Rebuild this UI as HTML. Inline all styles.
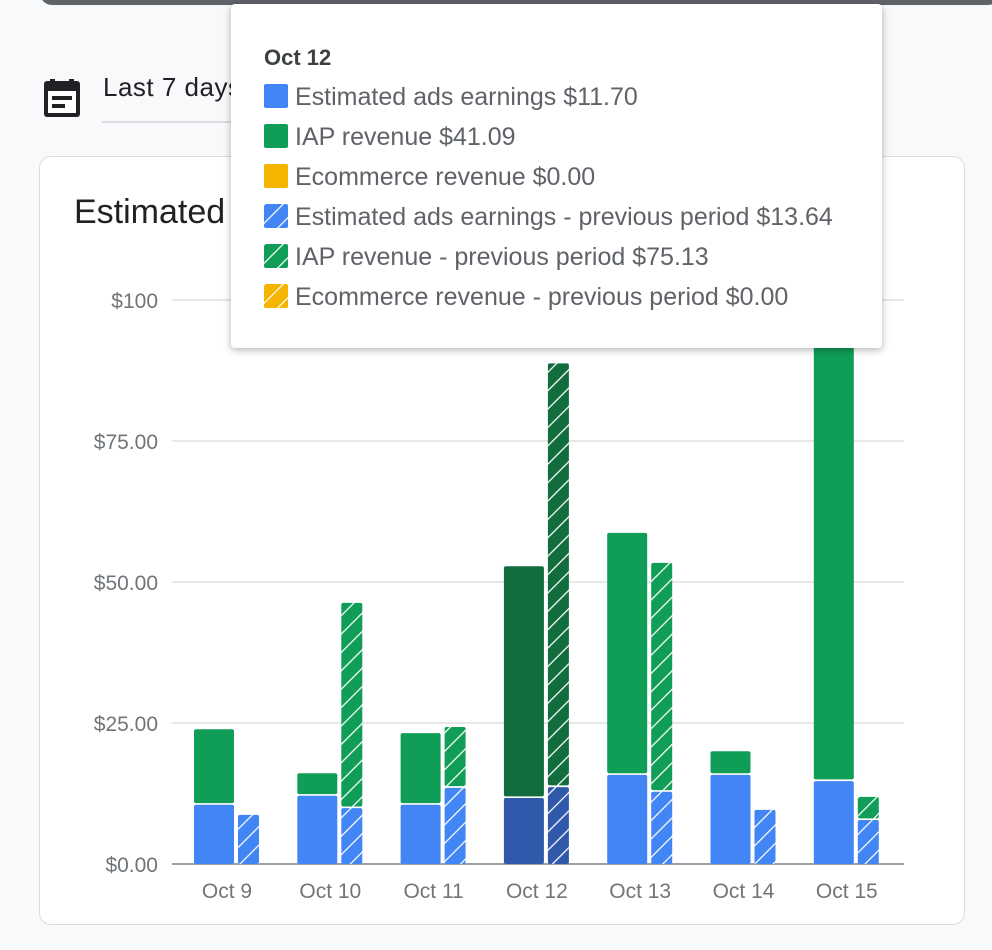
<!DOCTYPE html>
<html><head><meta charset="utf-8"><style>
body{margin:0;width:992px;height:950px;background:#f8f9fa;font-family:"Liberation Sans",Roboto,sans-serif;position:relative;overflow:hidden}
#topbar{position:absolute;left:40px;top:-20px;width:960px;height:25px;background:#5f6368;border-radius:12px}
#cal{position:absolute;left:44px;top:75px}
#range{position:absolute;left:103px;top:72px;font-size:26px;color:#202124;letter-spacing:0.5px}
#uline{position:absolute;left:102px;top:121px;width:140px;height:2px;background:#dadce0}
#card{position:absolute;left:39px;top:156px;width:924px;height:767px;background:#fff;border:1.5px solid #dadce0;border-radius:12px}
#title{position:absolute;left:74px;top:193px;font-size:34px;color:#202124}
#chart{position:absolute;left:0;top:0}
#tip{position:absolute;left:231px;top:4px;width:651px;height:344px;background:#fff;border-radius:4px;box-shadow:0 2px 8px rgba(0,0,0,.3)}
#tip .h{position:absolute;left:33px;top:41px;font-size:22px;font-weight:bold;color:#3c4043}
.row{position:absolute;left:33px;font-size:25px;color:#5f6368;white-space:nowrap}
.sw{display:inline-block;width:24px;height:24px;border-radius:2px;vertical-align:-3px;margin-right:7px}
</style></head><body>
<div id="topbar"></div>
<svg id="cal" width="36" height="42" viewBox="0 0 36 42"><rect x="0" y="6" width="36" height="36" rx="3" fill="#202124"/><rect x="6" y="4" width="5" height="8" fill="#202124"/><rect x="25" y="4" width="5" height="8" fill="#202124"/><rect x="4" y="16" width="28" height="22" fill="#fff"/><rect x="8" y="21" width="20" height="4" fill="#202124"/><rect x="8" y="29" width="13" height="4" fill="#202124"/></svg>
<div id="range">Last 7 days</div>
<div id="uline"></div>
<div id="card"></div>
<div id="title">Estimated revenue</div>
<svg id="chart" width="992" height="950">
<defs>
<pattern id="hb" width="13" height="13" patternUnits="userSpaceOnUse" patternTransform="rotate(45)"><rect width="13" height="13" fill="#4285f4"/><line x1="0" y1="0" x2="0" y2="13" stroke="#fff" stroke-width="2.5"/></pattern>
<pattern id="hg" width="13" height="13" patternUnits="userSpaceOnUse" patternTransform="rotate(45)"><rect width="13" height="13" fill="#0f9d58"/><line x1="0" y1="0" x2="0" y2="13" stroke="#fff" stroke-width="2.5"/></pattern>
<pattern id="hbd" width="13" height="13" patternUnits="userSpaceOnUse" patternTransform="rotate(45)"><rect width="13" height="13" fill="#3159ab"/><line x1="0" y1="0" x2="0" y2="13" stroke="#fff" stroke-width="2.5"/></pattern>
<pattern id="hgd" width="13" height="13" patternUnits="userSpaceOnUse" patternTransform="rotate(45)"><rect width="13" height="13" fill="#116d3d"/><line x1="0" y1="0" x2="0" y2="13" stroke="#fff" stroke-width="2.5"/></pattern>
<pattern id="hy" width="13" height="13" patternUnits="userSpaceOnUse" patternTransform="rotate(45)"><rect width="13" height="13" fill="#f4b400"/><line x1="0" y1="0" x2="0" y2="13" stroke="#fff" stroke-width="2.5"/></pattern>
</defs>
<g id="g"></g>
</svg>
<div id="tip">
<div class="h">Oct 12</div>
<div class="row" style="top:79px"><span class="sw" style="background:#4285f4"></span>Estimated ads earnings $11.70</div>
<div class="row" style="top:119px"><span class="sw" style="background:#0f9d58"></span>IAP revenue $41.09</div>
<div class="row" style="top:159px"><span class="sw" style="background:#f4b400"></span>Ecommerce revenue $0.00</div>
<div class="row" style="top:199px"><svg class="sw" width="24" height="24"><rect width="24" height="24" fill="url(#hb)"/></svg>Estimated ads earnings - previous period $13.64</div>
<div class="row" style="top:239px"><svg class="sw" width="24" height="24"><rect width="24" height="24" fill="url(#hg)"/></svg>IAP revenue - previous period $75.13</div>
<div class="row" style="top:279px"><svg class="sw" width="24" height="24"><rect width="24" height="24" fill="url(#hy)"/></svg>Ecommerce revenue - previous period $0.00</div>
</div>
<script>
const categories=["Oct 9","Oct 10","Oct 11","Oct 12","Oct 13","Oct 14","Oct 15"];
const adsCurrent=[10.5,12.1,10.5,11.70,15.8,15.8,14.7];
const iapCurrent=[13.4,4.0,12.7,41.09,42.9,4.2,90];
const adsPrevious=[8.7,9.9,13.5,13.64,12.8,9.6,7.8];
const iapPrevious=[0,36.4,10.8,75.13,40.6,0,4.1];
const yTicks=[0,25,50,75,100];
const yTickLabels=["$0.00","$25.00","$50.00","$75.00","$100"];
const highlighted=3;
const NS="http://www.w3.org/2000/svg";
const g=document.getElementById('g');
const y=v=>864-v*5.64;
const x=i=>194+i*103.3;
function mk(t,a){const e=document.createElementNS(NS,t);for(const k in a)e.setAttribute(k,a[k]);g.appendChild(e);return e;}
yTicks.forEach((t,i)=>{
 const l=mk('line',{x1:172,x2:904,y1:y(t),y2:y(t),stroke:i==0?'#9aa0a6':'#e0e0e0','stroke-width':i==0?2:1.5});
 
 
 const tx=mk('text',{x:158,y:y(t)+8,'text-anchor':'end','font-size':21,fill:'#70757a','font-family':'Liberation Sans, sans-serif'});
 tx.textContent=yTickLabels[i];
 
 
});
function bar(x0,w,v0,v1,fill,name){
 if(v1-v0<=0)return;
 const r=mk('rect',{x:x0,y:y(v1),width:w,height:y(v0)-y(v1),fill:fill,rx:2});
 
 
}
categories.forEach((c,i)=>{
 const h=i===highlighted;
 const x0=x(i);
 bar(x0,40,0,adsCurrent[i],h?'#3159ab':'#4285f4','bar-ads-current');
 bar(x0,40,adsCurrent[i]+0.3,adsCurrent[i]+iapCurrent[i],h?'#116d3d':'#0f9d58','bar-iap-current');
 bar(x0+44,21,0,adsPrevious[i],h?'url(#hbd)':'url(#hb)','bar-ads-previous');
 bar(x0+44,21,adsPrevious[i]+0.3,adsPrevious[i]+iapPrevious[i],h?'url(#hgd)':'url(#hg)','bar-iap-previous');
 const t=mk('text',{x:x0+33,y:898,'text-anchor':'middle','font-size':21,fill:'#70757a','font-family':'Liberation Sans, sans-serif'});
 t.textContent=c;
 
 
});
</script>
</body></html>
